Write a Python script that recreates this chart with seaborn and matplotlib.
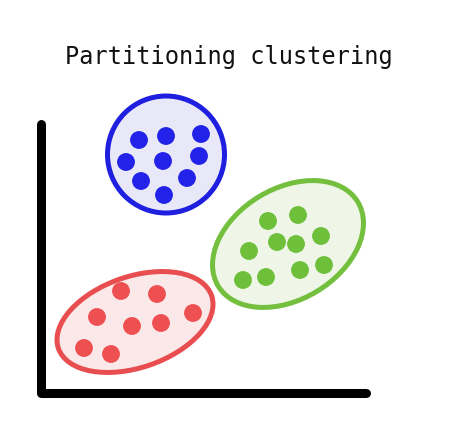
import pandas as pd
import matplotlib.pyplot as plt
from matplotlib.patches import Ellipse
import seaborn as sns

# point positions (pixel-like units, y grows downward)
blue_x = [139, 166, 201, 126, 163, 199, 141, 187, 164]
blue_y = [140, 136, 134, 162, 161, 156, 181, 178, 195]
green_x = [268, 298, 277, 296, 321, 249, 243, 266, 300, 324]
green_y = [221, 215, 242, 244, 236, 251, 280, 277, 270, 265]
red_x = [121, 157, 97, 132, 161, 193, 84, 111]
red_y = [291, 294, 317, 326, 323, 313, 348, 354]
groups = ["blue", "green", "red"]

df = pd.concat([
    pd.DataFrame({"x": blue_x, "y": blue_y, "grp": "blue"}),
    pd.DataFrame({"x": green_x, "y": green_y, "grp": "green"}),
    pd.DataFrame({"x": red_x, "y": red_y, "grp": "red"}),
])

edge = {"blue": "#1f1fe0", "green": "#74bf3e", "red": "#e84e50"}
dot = {"blue": "#2222e8", "green": "#6ebf3a", "red": "#ee4f50"}
fill = {"blue": "#e8e8f8", "green": "#eff6e8", "red": "#fbe9ea"}

sns.set_style("white")
fig = plt.figure(figsize=(4.57, 4.42), dpi=100)
ax = fig.add_axes([0, 0, 1, 1])
ax.set_xlim(0, 457)
ax.set_ylim(442, 0)
ax.axis("off")

# cluster outlines: (cx, cy, width, height, angle)
shapes = {
    "blue": (166, 154.5, 117, 117, 0),
    "green": (288, 244, 163, 111, -31),
    "red": (135, 322, 162, 91, -19),
}
for g in groups:
    cx, cy, w, h, ang = shapes[g]
    ax.add_patch(Ellipse((cx, cy), w, h, angle=ang, facecolor=fill[g],
                         edgecolor=edge[g], lw=3.6, zorder=1))

sns.scatterplot(data=df, x="x", y="y", hue="grp", palette=dot, s=165,
                edgecolor="none", legend=False, ax=ax, zorder=3)

# the "axes" drawn as thick black strokes
ax.plot([41, 41, 366], [124, 393, 393], color="black", lw=6.5,
        solid_capstyle="round", solid_joinstyle="round", zorder=2)

ax.text(228.5, 57, "Partitioning clustering", ha="center", va="center",
        fontsize=17, family="DejaVu Sans Mono", color="#111111")

fig.savefig("out.png", dpi=100, facecolor="white")
